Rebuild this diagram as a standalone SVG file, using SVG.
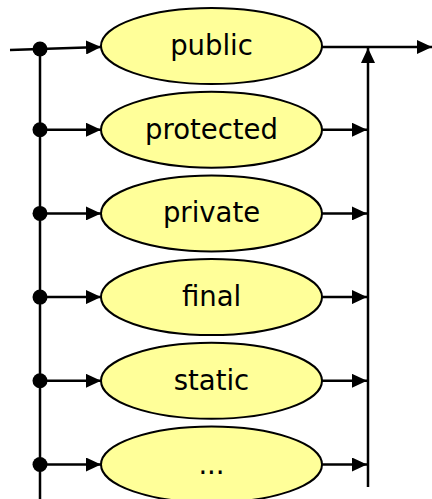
<svg xmlns="http://www.w3.org/2000/svg" width="432" height="499" viewBox="0 0 432 499">
  <style>
    .node ellipse { fill: #ffff99; stroke: #000; stroke-width: 2; }
    .node text { font-family: "DejaVu Sans", Verdana, sans-serif; font-size: 27.5px; fill: #000; text-anchor: middle; }
    .wire { stroke: #000; stroke-width: 2.5; fill: none; }
    .arrow { stroke: #000; stroke-width: 2.5; fill: none; marker-end: url(#head); }
    .dot { fill: #000; }
  </style>
  <defs>
    <marker id="head" viewBox="0 0 15 14" refX="15" refY="7" markerWidth="15" markerHeight="14" markerUnits="userSpaceOnUse" orient="auto">
      <path d="M0,0 L15,7 L0,14 Z" fill="#000"/>
    </marker>
  </defs>

  <g id="nodes">
    <g id="n-public" class="node">
      <ellipse cx="211.5" cy="46" rx="110.5" ry="38"/>
      <text x="211.5" y="55">public</text>
    </g>
    <g id="n-protected" class="node">
      <ellipse cx="211.5" cy="129.7" rx="110.5" ry="38"/>
      <text x="211.5" y="138.7">protected</text>
    </g>
    <g id="n-private" class="node">
      <ellipse cx="211.5" cy="213.4" rx="110.5" ry="38"/>
      <text x="211.5" y="222.4">private</text>
    </g>
    <g id="n-final" class="node">
      <ellipse cx="211.5" cy="297.1" rx="110.5" ry="38"/>
      <text x="211.5" y="306.1">final</text>
    </g>
    <g id="n-static" class="node">
      <ellipse cx="211.5" cy="380.8" rx="110.5" ry="38"/>
      <text x="211.5" y="389.8">static</text>
    </g>
    <g id="n-more" class="node">
      <ellipse cx="211.5" cy="464.5" rx="110.5" ry="38"/>
      <text x="211.5" y="473.5">...</text>
    </g>
  </g>

  <g id="connectors">
    <!-- left rail -->
    <line class="wire" x1="40" y1="49" x2="40" y2="499"/>
    <!-- entry into first option -->
    <polyline class="arrow" points="10,50 40,49 101,47"/>
    <!-- branches from left rail -->
    <line class="arrow" x1="40" y1="129.7" x2="101" y2="129.7"/>
    <line class="arrow" x1="40" y1="213.4" x2="101" y2="213.4"/>
    <line class="arrow" x1="40" y1="297.1" x2="101" y2="297.1"/>
    <line class="arrow" x1="40" y1="380.8" x2="101" y2="380.8"/>
    <line class="arrow" x1="40" y1="464.5" x2="101" y2="464.5"/>
    <!-- junction dots -->
    <circle class="dot" cx="40" cy="49" r="7.5"/>
    <circle class="dot" cx="40" cy="129.7" r="7.5"/>
    <circle class="dot" cx="40" cy="213.4" r="7.5"/>
    <circle class="dot" cx="40" cy="297.1" r="7.5"/>
    <circle class="dot" cx="40" cy="380.8" r="7.5"/>
    <circle class="dot" cx="40" cy="464.5" r="7.5"/>
    <!-- exit line -->
    <line class="arrow" x1="322" y1="47" x2="432" y2="47"/>
    <!-- right rail, rising into the exit line -->
    <line class="arrow" x1="368" y1="487" x2="368" y2="48"/>
    <!-- returns into right rail -->
    <line class="arrow" x1="322" y1="129.7" x2="367" y2="129.7"/>
    <line class="arrow" x1="322" y1="213.4" x2="367" y2="213.4"/>
    <line class="arrow" x1="322" y1="297.1" x2="367" y2="297.1"/>
    <line class="arrow" x1="322" y1="380.8" x2="367" y2="380.8"/>
    <line class="arrow" x1="322" y1="464.5" x2="367" y2="464.5"/>
  </g>
</svg>
